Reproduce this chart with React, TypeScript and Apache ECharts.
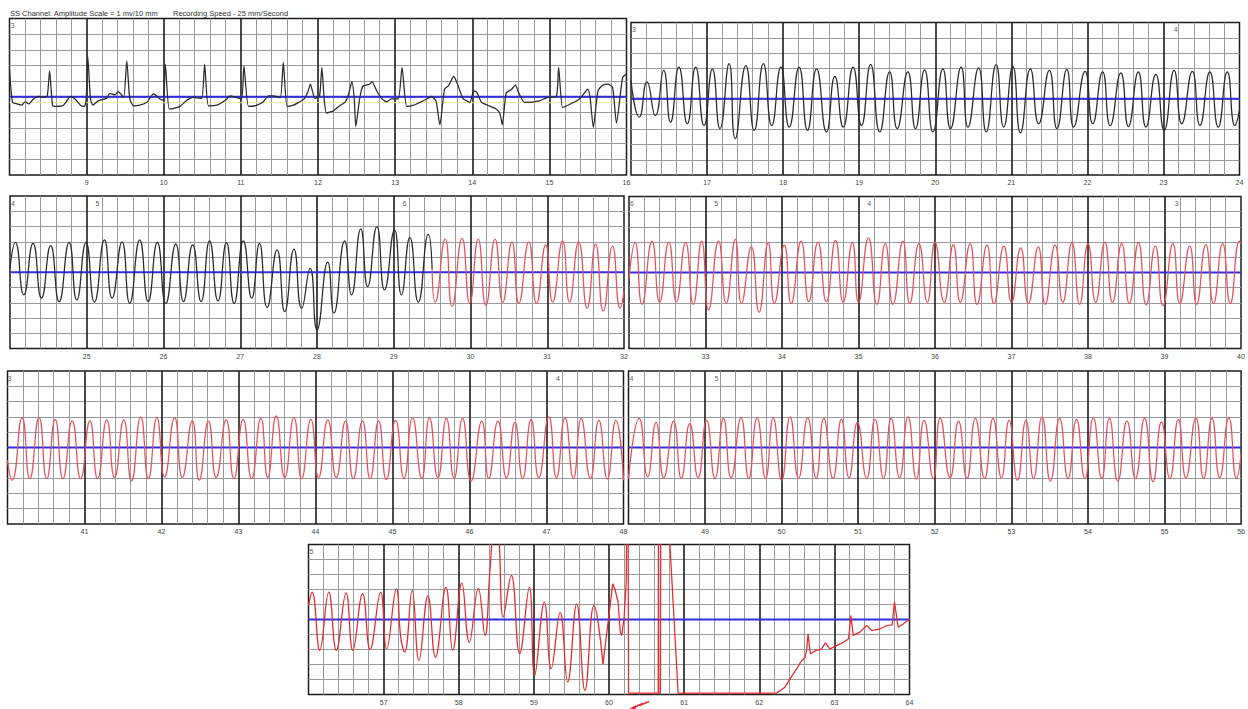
import { useEffect, useRef } from 'react'
import * as echarts from 'echarts'

// ---- data (seconds, mV) ----
const PANEL_STARTS = [8, 16, 24, 32, 40, 48, 56]
const PANEL_SECONDS = 8
const HEADER_LEFT = 'SS Channel: Amplitude Scale = 1 mv/10 mm'
const HEADER_RIGHT = 'Recording Speed - 25 mm/Second'

// rhythm annotations per panel: [time, label]
const NOTES: [number, string][][] = [
  [[8.04, '3']],
  [[16.04, '3'], [23.16, '4']],
  [[24.04, '4'], [25.14, '5'], [29.14, '6']],
  [[32.04, '6'], [33.14, '5'], [35.14, '4'], [39.16, '3']],
  [[40.03, '3'], [47.15, '4']],
  [[48.04, '4'], [49.15, '5']],
  [[56.04, '5']],
]

const trace1: [number, number][] = [
  [8.0, 0.86], [8.04, -0.18], [8.1, -0.23], [8.16, -0.27], [8.2, -0.16], [8.25, -0.23], [8.31, -0.07], [8.38, 0.01],
  [8.44, -0.02], [8.49, 0.03], [8.52, 0.83], [8.56, -0.29], [8.61, -0.31], [8.7, -0.27], [8.76, -0.07], [8.79, 0.01],
  [8.85, -0.07], [8.92, -0.27], [8.97, -0.31], [8.995, -0.07], [9.015, 1.29], [9.05, -0.07], [9.08, -0.27], [9.15, -0.13],
  [9.26, -0.05], [9.3, 0.11], [9.37, 0.06], [9.41, 0.16], [9.48, -0.02], [9.52, 1.15], [9.56, -0.07], [9.61, -0.29],
  [9.69, -0.27], [9.78, -0.18], [9.84, 0.03], [9.87, 0.09], [9.95, -0.07], [9.995, -0.11], [10.02, 1.04], [10.07, -0.39],
  [10.13, -0.37], [10.21, -0.31], [10.3, -0.11], [10.38, -0.02], [10.49, -0.05], [10.53, 1.04], [10.58, -0.29], [10.69, -0.27],
  [10.82, -0.07], [10.86, 0.03], [10.95, -0.03], [11.01, -0.07], [11.04, 0.99], [11.1, -0.31], [11.21, -0.27], [11.29, -0.16],
  [11.36, 0.03], [11.42, 0.03], [11.51, -0.03], [11.55, 1.1], [11.6, -0.31], [11.68, -0.27], [11.75, -0.18], [11.82, -0.07],
  [11.87, 0.16], [11.9, 0.4], [11.96, -0.05], [12.02, 0.03], [12.05, 0.94], [12.08, -0.07], [12.11, -0.52], [12.2, -0.45],
  [12.29, -0.27], [12.35, -0.18], [12.39, 0.03], [12.44, 0.48], [12.47, -0.07], [12.49, -0.95], [12.54, -0.07], [12.58, 0.33],
  [12.67, 0.4], [12.7, 0.48], [12.76, 0.19], [12.83, -0.07], [12.89, -0.16], [12.95, -0.07], [13.04, -0.07], [13.09, 0.94],
  [13.15, -0.31], [13.24, -0.27], [13.32, -0.18], [13.43, -0.05], [13.47, 0.01], [13.53, -0.13], [13.58, -0.9], [13.64, 0.24],
  [13.69, 0.35], [13.76, 0.65], [13.82, 0.33], [13.88, -0.05], [13.97, -0.18], [14.02, 0.19], [14.06, 0.14], [14.12, -0.18],
  [14.2, -0.27], [14.31, -0.39], [14.36, -0.55], [14.39, -0.9], [14.44, 0.12], [14.51, 0.24], [14.56, 0.37], [14.6, 0.14],
  [14.68, -0.18], [14.87, -0.13], [14.98, -0.02], [15.09, 0.01], [15.12, 0.94], [15.17, -0.34], [15.24, -0.27], [15.39, -0.07],
  [15.5, 0.24], [15.53, -0.07], [15.57, -0.98], [15.63, 0.19], [15.69, 0.37], [15.76, 0.4], [15.82, 0.3], [15.87, -0.84],
  [15.95, 0.62], [16.0, 0.72],
]

const trace2: [number, number][] = [
  [16.0, 0.6], [16.11, -0.6], [16.21, 0.55], [16.32, -0.55], [16.43, 0.93], [16.52, -0.77], [16.63, 1.04], [16.74, -0.82],
  [16.85, 1.04], [16.96, -0.88], [17.07, 0.98], [17.17, -0.98], [17.29, 1.15], [17.37, -1.31], [17.51, 1.09], [17.62, -1.04],
  [17.74, 1.15], [17.85, -0.88], [17.97, 1.04], [18.08, -0.93], [18.21, 1.04], [18.32, -1.04], [18.44, 0.98], [18.57, -1.09],
  [18.68, 0.73], [18.79, -0.93], [18.92, 1.04], [19.03, -0.88], [19.15, 1.13], [19.27, -1.09], [19.4, 0.88], [19.5, -0.98],
  [19.64, 0.88], [19.74, -0.98], [19.86, 0.95], [19.97, -1.09], [20.1, 0.98], [20.2, -0.98], [20.34, 1.04], [20.43, -0.93],
  [20.57, 1.01], [20.67, -1.09], [20.8, 1.12], [20.9, -0.93], [21.02, 1.06], [21.12, -1.12], [21.25, 0.98], [21.36, -0.82],
  [21.5, 0.93], [21.6, -0.98], [21.73, 0.96], [21.82, -0.93], [21.97, 0.9], [22.07, -0.82], [22.2, 0.88], [22.3, -0.88],
  [22.44, 0.85], [22.54, -0.91], [22.67, 0.88], [22.77, -0.93], [22.9, 0.8], [23.01, -1.04], [23.14, 0.93], [23.24, -0.82],
  [23.38, 0.9], [23.48, -0.88], [23.61, 0.88], [23.72, -0.93], [23.84, 0.88], [23.94, -0.88], [24.0, -0.38],
]

const trace3Black: [number, number][] = [
  [24.0, 0.13], [24.07, 0.98], [24.18, -0.74], [24.3, 0.95], [24.41, -0.85], [24.53, 0.87], [24.64, -0.96], [24.77, 0.98],
  [24.87, -0.91], [24.99, 0.98], [25.1, -0.98], [25.23, 1.06], [25.33, -0.85], [25.46, 1.0], [25.56, -1.02], [25.69, 1.06],
  [25.8, -0.96], [25.92, 0.98], [26.03, -1.02], [26.16, 0.92], [26.26, -0.96], [26.38, 0.9], [26.49, -0.96], [26.6, 1.03],
  [26.71, -0.94], [26.82, 0.97], [26.92, -1.02], [27.04, 1.03], [27.15, -0.85], [27.25, 0.95], [27.35, -1.16], [27.48, 0.73],
  [27.58, -1.29], [27.7, 0.76], [27.8, -1.18], [27.91, 0.13], [28.0, -1.89], [28.14, 0.33], [28.22, -1.34], [28.36, 1.03],
  [28.45, -0.74], [28.57, 1.42], [28.66, -0.47], [28.78, 1.5], [28.88, -0.58], [29.01, 1.39], [29.1, -0.74], [29.21, 1.14],
  [29.32, -0.98], [29.45, 1.24], [29.5, 0.1],
]

const trace3Red: [number, number][] = [
  [29.5, 0.1], [29.54, -0.98], [29.67, 1.09], [29.76, -1.12], [29.89, 1.11], [29.99, -1.02], [30.1, 1.09], [30.2, -1.09],
  [30.32, 1.09], [30.42, -0.98], [30.54, 1.0], [30.63, -1.02], [30.76, 1.0], [30.86, -1.02], [30.98, 0.9], [31.07, -0.98],
  [31.2, 1.03], [31.29, -0.98], [31.41, 1.0], [31.52, -1.18], [31.63, 0.92], [31.73, -1.27], [31.85, 0.86], [31.95, -1.18],
  [32.0, -0.63],
]

const trace4: [number, number][] = [
  [32.0, -0.2], [32.08, 0.98], [32.17, -1.05], [32.3, 1.03], [32.4, -0.98], [32.52, 1.0], [32.62, -0.96], [32.74, 0.98],
  [32.84, -1.05], [32.95, 1.03], [33.04, -1.23], [33.17, 1.03], [33.27, -1.02], [33.39, 1.09], [33.47, -1.02], [33.6, 0.84],
  [33.7, -1.31], [33.82, 0.98], [33.9, -1.02], [34.03, 0.9], [34.12, -1.02], [34.25, 1.03], [34.35, -0.96], [34.47, 1.0],
  [34.58, -0.96], [34.7, 1.06], [34.8, -0.98], [34.92, 0.98], [35.0, -0.98], [35.13, 1.14], [35.24, -1.05], [35.35, 0.95],
  [35.45, -1.05], [35.58, 1.03], [35.67, -1.02], [35.79, 0.95], [35.9, -0.98], [36.0, 1.0], [36.12, -0.98], [36.24, 0.92],
  [36.33, -0.98], [36.46, 0.95], [36.55, -1.05], [36.68, 0.9], [36.77, -1.02], [36.9, 0.87], [37.0, -0.98], [37.12, 0.81],
  [37.22, -1.02], [37.35, 0.84], [37.44, -1.05], [37.57, 0.9], [37.67, -0.98], [37.79, 0.98], [37.89, -1.05], [38.0, 0.95],
  [38.1, -0.98], [38.22, 1.0], [38.32, -0.98], [38.44, 0.95], [38.54, -1.02], [38.66, 0.98], [38.76, -1.07], [38.88, 0.87],
  [38.98, -1.09], [39.11, 0.95], [39.2, -1.02], [39.33, 0.87], [39.42, -1.05], [39.54, 0.92], [39.64, -1.02], [39.76, 0.95],
  [39.86, -1.02], [39.98, 1.03], [40.0, 0.95],
]

const trace5: [number, number][] = [
  [40.0, -0.41], [40.06, -1.07], [40.19, 0.98], [40.29, -1.02], [40.41, 0.98], [40.51, -1.02], [40.62, 0.92], [40.72, -1.02],
  [40.84, 0.87], [40.95, -1.02], [41.07, 0.87], [41.17, -1.02], [41.29, 0.9], [41.39, -0.98], [41.51, 0.9], [41.61, -1.09],
  [41.73, 1.0], [41.83, -1.02], [41.94, 0.98], [42.04, -0.96], [42.17, 0.98], [42.27, -0.98], [42.4, 0.87], [42.49, -1.07],
  [42.61, 0.86], [42.71, -0.98], [42.84, 0.9], [42.94, -1.02], [43.06, 0.92], [43.17, -1.02], [43.29, 0.95], [43.38, -0.98],
  [43.49, 1.03], [43.6, -0.98], [43.72, 0.98], [43.82, -1.02], [43.94, 0.92], [44.04, -0.98], [44.16, 0.9], [44.27, -0.98],
  [44.39, 0.86], [44.49, -1.02], [44.61, 0.87], [44.71, -1.02], [44.82, 0.87], [44.92, -1.05], [45.04, 0.89], [45.15, -1.01],
  [45.26, 0.97], [45.38, -1.01], [45.48, 0.97], [45.59, -0.99], [45.7, 0.95], [45.8, -1.01], [45.91, 0.95], [46.02, -1.1],
  [46.16, 0.86], [46.25, -1.01], [46.37, 0.86], [46.48, -0.99], [46.59, 0.82], [46.69, -1.01], [46.8, 0.91], [46.9, -0.99],
  [47.03, 1.0], [47.13, -0.99], [47.24, 0.97], [47.35, -1.01], [47.45, 0.95], [47.57, -1.01], [47.68, 0.89], [47.79, -1.03],
  [47.9, 0.89], [48.0, -1.07],
]

const trace6: [number, number][] = [
  [48.0, -1.01], [48.14, 0.95], [48.25, -0.96], [48.36, 0.82], [48.46, -0.99], [48.59, 0.86], [48.69, -1.01], [48.8, 0.78],
  [48.91, -0.99], [49.02, 0.89], [49.13, -1.01], [49.24, 0.95], [49.34, -0.99], [49.47, 0.97], [49.57, -1.01], [49.68, 0.97],
  [49.79, -1.01], [49.89, 0.97], [50.0, -1.07], [50.11, 1.0], [50.22, -1.01], [50.34, 0.97], [50.45, -1.01], [50.55, 0.95],
  [50.67, -1.01], [50.78, 0.92], [50.88, -0.99], [50.99, 0.82], [51.11, -1.01], [51.22, 0.92], [51.33, -1.01], [51.43, 0.95],
  [51.54, -0.99], [51.65, 1.0], [51.76, -1.03], [51.86, 0.89], [51.98, -1.01], [52.07, 0.97], [52.2, -0.99], [52.31, 0.86],
  [52.42, -1.01], [52.53, 0.95], [52.65, -1.01], [52.76, 0.95], [52.87, -0.99], [52.97, 0.89], [53.08, -1.07], [53.19, 0.89],
  [53.29, -1.01], [53.4, 1.0], [53.51, -1.1], [53.63, 0.95], [53.74, -1.01], [53.85, 0.92], [53.96, -1.01], [54.07, 0.97],
  [54.18, -1.01], [54.28, 0.95], [54.39, -1.1], [54.51, 0.86], [54.62, -1.01], [54.74, 0.95], [54.85, -1.12], [54.96, 0.84],
  [55.07, -1.01], [55.18, 0.92], [55.28, -0.99], [55.41, 0.97], [55.51, -1.01], [55.62, 0.95], [55.72, -0.99], [55.84, 0.97],
  [55.94, -1.01], [56.0, -0.2],
]

const trace7Rhythm: [number, number][] = [
  [56.0, 0.47], [56.05, 0.91], [56.15, -1.03], [56.27, 0.91], [56.37, -1.03], [56.5, 0.89], [56.59, -1.03], [56.72, 0.86],
  [56.82, -1.0], [56.96, 0.91], [57.04, -0.98], [57.17, 1.02], [57.23, -0.64], [57.28, -1.09], [57.38, 0.97], [57.47, -1.37],
  [57.59, 0.8], [57.69, -1.26], [57.83, 1.08], [57.92, -1.03], [58.04, 1.22], [58.14, -0.76], [58.26, 1.04], [58.35, -0.53],
  [58.42, 1.8], [58.47, 2.7], [58.52, 2.7], [58.59, 0.08], [58.7, 1.47], [58.81, -1.14], [58.94, 1.08], [59.01, -1.87],
  [59.14, 0.58], [59.23, -1.64], [59.35, 0.24], [59.45, -2.09], [59.57, 0.52], [59.68, -2.37], [59.8, 0.47], [59.92, -1.48],
]

const trace7Shock: [number, number][] = [
  [59.92, -1.48], [60.05, 1.19], [60.08, 1.0], [60.12, 0.6], [60.15, -0.42], [60.17, -0.53], [60.2, 0.02], [60.23, 1.3],
  [60.235, 3.0], [60.255, 3.0], [60.26, -2.45], [60.655, -2.45], [60.658, 3.0], [60.662, -2.45], [60.685, -2.45], [60.688, 3.0],
  [60.8, 3.0], [60.92, -2.45], [62.23, -2.45], [62.28, -2.37], [62.34, -2.26], [62.41, -1.98], [62.5, -1.64], [62.55, -1.42],
  [62.61, -1.26], [62.63, -1.03], [62.65, -0.48], [62.68, -1.14], [62.76, -1.03], [62.83, -0.98], [62.88, -0.78], [62.94, -0.98],
  [63.03, -0.87], [63.12, -0.76], [63.19, -0.64], [63.22, 0.13], [63.25, -0.53], [63.34, -0.42], [63.43, -0.2], [63.5, -0.37],
  [63.61, -0.31], [63.7, -0.2], [63.77, -0.18], [63.8, 0.58], [63.85, -0.26], [63.92, -0.14], [64.0, 0.02],
]

// ---- layout / styles ----
const GRIDS = [
  { left: 9.5, top: 18.5, width: 617, height: 156.5 },
  { left: 631, top: 22.5, width: 608.5, height: 152.5 },
  { left: 10, top: 196, width: 614, height: 152.5 },
  { left: 629, top: 196.5, width: 612, height: 152 },
  { left: 7.5, top: 371, width: 616, height: 153 },
  { left: 628.5, top: 371, width: 613, height: 153 },
  { left: 308.5, top: 544.5, width: 601, height: 150 },
]

const FONT = 'Liberation Sans, Arial, sans-serif'
const BLACK_TRACE = '#2a2a2a'
const RED_TRACE = '#e9505a'
const RED_SHOCK = '#e42a2e'

function traceSeries(idx: number, data: [number, number][], color: string, smooth: number | boolean) {
  return {
    type: 'line',
    xAxisIndex: idx,
    yAxisIndex: idx,
    data,
    symbol: 'none',
    smooth,
    clip: true,
    silent: true,
    z: 4,
    lineStyle: { color, width: 1.25 },
  }
}

function flatSeries(idx: number, level: number, color: string, width: number) {
  const s = PANEL_STARTS[idx]
  return {
    type: 'line',
    xAxisIndex: idx,
    yAxisIndex: idx,
    data: [[s, level], [s + PANEL_SECONDS, level]],
    symbol: 'none',
    silent: true,
    z: 3,
    lineStyle: { color, width },
  }
}

function noteSeries(idx: number) {
  return {
    type: 'scatter',
    xAxisIndex: idx,
    yAxisIndex: idx,
    symbolSize: 1,
    silent: true,
    z: 5,
    itemStyle: { color: 'transparent' },
    label: { show: true, position: 'inside', formatter: '{b}', fontSize: 7, color: '#333', fontFamily: FONT },
    data: NOTES[idx].map(([t, txt]) => ({ name: txt, value: [t, 2.27] })),
  }
}

export default function App() {
  const ref = useRef<HTMLDivElement>(null)

  useEffect(() => {
    if (!ref.current) return
    const chart = echarts.init(ref.current, null, { renderer: 'svg' })

    const series: any[] = []
    PANEL_STARTS.forEach((_, i) => {
      series.push(flatSeries(i, 0, '#2f2fe2', 2))
      series.push(noteSeries(i))
    })
    series.push(flatSeries(0, -0.19, '#ece5a6', 1))
    series.push(traceSeries(0, trace1, BLACK_TRACE, 0.2))
    series.push(traceSeries(1, trace2, BLACK_TRACE, 0.55))
    series.push(traceSeries(2, trace3Black, BLACK_TRACE, 0.55))
    series.push(traceSeries(2, trace3Red, RED_TRACE, 0.55))
    series.push(traceSeries(3, trace4, RED_TRACE, 0.55))
    series.push(traceSeries(4, trace5, RED_TRACE, 0.55))
    series.push(traceSeries(5, trace6, RED_TRACE, 0.55))
    series.push(traceSeries(6, trace7Rhythm, RED_SHOCK, 0.45))
    series.push(traceSeries(6, trace7Shock, RED_SHOCK, false))

    const option = {
      animation: false,
      backgroundColor: '#fff',
      textStyle: { fontFamily: FONT },
      grid: GRIDS.map(g => ({ ...g, show: true, borderColor: '#1c1c1c', borderWidth: 1.5, backgroundColor: 'transparent', containLabel: false })),
      xAxis: PANEL_STARTS.map((s, i) => ({
        gridIndex: i,
        type: 'value',
        min: s,
        max: s + PANEL_SECONDS,
        interval: 1,
        axisLine: { show: false },
        axisTick: { show: false },
        axisLabel: { show: true, showMinLabel: false, fontSize: 7, color: '#444', margin: 4, fontFamily: FONT },
        splitLine: { show: true, showMinLine: false, showMaxLine: false, lineStyle: { color: '#1c1c1c', width: 1.6 } },
        minorTick: { show: false, splitNumber: 5 },
        minorSplitLine: { show: true, lineStyle: { color: '#9a9a9a', width: 1 } },
      })),
      yAxis: PANEL_STARTS.map((_, i) => ({
        gridIndex: i,
        type: 'value',
        min: -2.5,
        max: 2.5,
        interval: 0.5,
        axisLine: { show: false },
        axisTick: { show: false },
        axisLabel: { show: false },
        splitLine: { show: true, showMinLine: false, showMaxLine: false, lineStyle: { color: '#9a9a9a', width: 1 } },
      })),
      graphic: [
        { type: 'text', left: 10, top: 9, style: { text: HEADER_LEFT, fontSize: 7.5, fill: '#333', fontFamily: FONT } },
        { type: 'text', left: 173, top: 9, style: { text: HEADER_RIGHT, fontSize: 7.5, fill: '#333', fontFamily: FONT } },
        {
          type: 'polyline',
          shape: { points: [[649, 701.5], [639.5, 705.5], [642.5, 703.5], [631.5, 708.5]] },
          style: { stroke: RED_SHOCK, lineWidth: 1.5, fill: null },
        },
        {
          type: 'polygon',
          shape: { points: [[629.5, 709], [636, 705], [635.5, 709]] },
          style: { fill: RED_SHOCK },
        },
      ],
      series,
    }

    chart.setOption(option)
    return () => chart.dispose()
  }, [])

  return (
    <div
      ref={ref}
      style={{ position: 'fixed', left: 0, top: 0, width: 1248, height: 709, background: '#fff' }}
    />
  )
}
